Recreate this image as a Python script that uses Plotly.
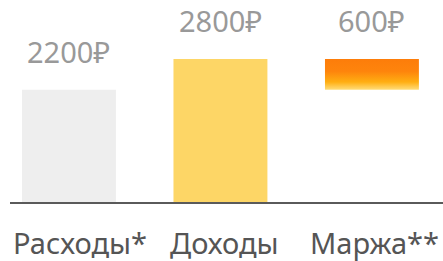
import plotly.graph_objects as go

categories = ["Расходы*", "Доходы", "Маржа**"]
expenses = 2200
income = 2800
margin = income - expenses
value_labels = ["2200₽", "2800₽", "600₽"]

FONT = "Noto Sans"
bar_w = 0.62
x = [0, 1, 2]
label_shift = [11, 4, 3]

fig = go.Figure()
fig.add_trace(go.Bar(x=[x[0]], y=[expenses], width=bar_w, marker=dict(color="#EEEEEE", line=dict(width=0)), hoverinfo="skip"))
fig.add_trace(go.Bar(x=[x[1]], y=[income], width=bar_w, marker=dict(color="#FDD666", line=dict(width=0)), hoverinfo="skip"))

# floating margin bar with vertical gradient
x0, x1 = x[2] - bar_w / 2, x[2] + bar_w / 2
fig.add_trace(go.Scatter(
    x=[x0, x1, x1, x0, x0],
    y=[expenses, expenses, income, income, expenses],
    mode="lines", line=dict(width=0), fill="toself",
    fillgradient=dict(type="vertical",
                      colorscale=[[0, "#FFDC78"], [0.25, "#FFAE12"], [0.6, "#FE840C"], [1, "#FD7D0A"]]),
    hoverinfo="skip"))

tops = [expenses, income, income]
for xi, yt, lab in zip(x, tops, value_labels):
    fig.add_annotation(x=xi, y=yt, text=lab, showarrow=False, yanchor="bottom", yshift=17,
                       font=dict(family=FONT, size=29, color="#999999"))

for xi, cat, sh in zip(x, categories, label_shift):
    fig.add_annotation(x=xi, y=0, yref="y", text=cat, showarrow=False, yanchor="top", yshift=-19,
                       xshift=sh, font=dict(family=FONT, size=29, color="#555555"))

fig.update_layout(
    width=443, height=261, margin=dict(l=10, r=0, t=0, b=59, autoexpand=False),
    paper_bgcolor="white", plot_bgcolor="white", showlegend=False,
    xaxis=dict(range=[-0.389, 2.469], showticklabels=False, showgrid=False, zeroline=False,
               automargin=False, ticks="",
               showline=True, linecolor="#5a5a5a", linewidth=1.5),
    yaxis=dict(range=[0, 3955], visible=False, automargin=False),
)
fig.write_html("out.html", config={"displayModeBar": False},
               post_script="document.body.style.margin='0';document.body.style.overflow='hidden';")
